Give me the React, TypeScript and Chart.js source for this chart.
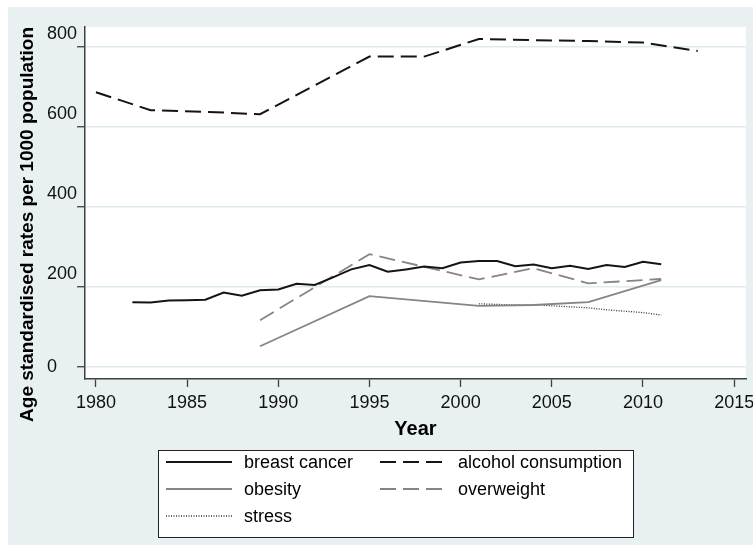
import React, { useEffect, useRef } from "react";
import { Chart, registerables } from "chart.js";

Chart.register(...registerables);

const FONT = '"Liberation Sans", Arial, Helvetica, sans-serif';

// ---- data ----
const breastYears = [1982, 1983, 1984, 1985, 1986, 1987, 1988, 1989, 1990, 1991, 1992, 1993, 1994, 1995, 1996, 1997, 1998, 1999, 2000, 2001, 2002, 2003, 2004, 2005, 2006, 2007, 2008, 2009, 2010, 2011];
const breastValues = [162, 161, 166, 167, 168, 186, 178, 192, 194, 208, 205, 224, 244, 255, 238, 244, 251, 247, 261, 265, 265, 252, 256, 247, 253, 245, 255, 250, 263, 257];

const alcoholYears = [1980, 1983, 1986, 1989, 1995, 1998, 2001, 2004, 2007, 2010, 2013];
const alcoholValues = [687, 642, 638, 632, 776, 776, 820, 817, 815, 811, 790];

const obesityYears = [1989, 1995, 2001, 2004, 2007, 2011];
const obesityValues = [52, 177, 153, 155, 162, 217];

const overweightYears = [1989, 1995, 2001, 2004, 2007, 2011];
const overweightValues = [117, 282, 219, 247, 209, 220];

const stressYears = [2001, 2003, 2004, 2005, 2007, 2008, 2010, 2011];
const stressValues = [158, 155, 156, 153, 148, 143, 136, 130];

const seriesLabels = ["breast cancer", "alcohol consumption", "obesity", "overweight", "stress"];

const xTickValues = [1980, 1985, 1990, 1995, 2000, 2005, 2010, 2015];
const yTickValues = [0, 200, 400, 600, 800];

const xTitle = "Year";
const yTitle = "Age standardised rates per 1000 population";

const pts = (xs: number[], ys: number[]) => xs.map((x, i) => ({ x, y: ys[i] }));

const bgPlugin = {
  id: "stataBg",
  beforeDraw(chart: any) {
    const { ctx, chartArea: a, width, height } = chart;
    ctx.save();
    ctx.fillStyle = "#e9f0f2";
    ctx.fillRect(0, 0, width, height);
    ctx.fillStyle = "#ffffff";
    ctx.fillRect(a.left, a.top, a.right - a.left, a.bottom - a.top);
    ctx.restore();
  },
};

const legendPlugin = {
  id: "stataLegend",
  afterDraw(chart: any) {
    const { ctx, chartArea: a } = chart;
    const ds = chart.data.datasets;
    const boxL = a.left + 73;
    const boxT = a.bottom + 71;
    const boxW = 475;
    const boxH = 87;
    ctx.save();
    ctx.fillStyle = "#ffffff";
    ctx.fillRect(boxL, boxT, boxW, boxH);
    ctx.strokeStyle = "#222222";
    ctx.lineWidth = 1;
    ctx.setLineDash([]);
    ctx.strokeRect(boxL + 0.5, boxT + 0.5, boxW, boxH);
    ctx.font = `18px ${FONT}`;
    ctx.textBaseline = "middle";
    ctx.textAlign = "left";
    ds.forEach((d: any, i: number) => {
      const col = i % 2;
      const row = Math.floor(i / 2);
      const y = boxT + 12 + row * 27;
      const lx = boxL + 8 + col * 214;
      ctx.save();
      ctx.strokeStyle = d.borderColor;
      ctx.lineWidth = d.borderWidth;
      ctx.setLineDash(d.borderDash || []);
      ctx.beginPath();
      ctx.moveTo(lx, y);
      ctx.lineTo(lx + 66, y);
      ctx.stroke();
      ctx.restore();
      ctx.fillStyle = "#000000";
      ctx.fillText(d.label, lx + 78, y + 1);
    });
    ctx.restore();
  },
};

export default function App() {
  const ref = useRef<HTMLCanvasElement | null>(null);

  useEffect(() => {
    if (!ref.current) return;
    const chart = new Chart(ref.current, {
      type: "line",
      data: {
        datasets: [
          {
            label: seriesLabels[0],
            data: pts(breastYears, breastValues),
            borderColor: "#141414",
            borderWidth: 2,
            borderDash: [],
          },
          {
            label: seriesLabels[1],
            data: pts(alcoholYears, alcoholValues),
            borderColor: "#141414",
            borderWidth: 2,
            borderDash: [16, 7],
          },
          {
            label: seriesLabels[2],
            data: pts(obesityYears, obesityValues),
            borderColor: "#858585",
            borderWidth: 1.8,
            borderDash: [],
          },
          {
            label: seriesLabels[3],
            data: pts(overweightYears, overweightValues),
            borderColor: "#858585",
            borderWidth: 1.8,
            borderDash: [16, 7],
          },
          {
            label: seriesLabels[4],
            data: pts(stressYears, stressValues),
            borderColor: "#333333",
            borderWidth: 1.3,
            borderDash: [1, 1.5],
          },
        ] as any,
      },
      options: {
        responsive: false,
        animation: false,
        layout: { padding: { top: 20, right: 7, bottom: 104, left: 39 } },
        plugins: { legend: { display: false }, tooltip: { enabled: false } },
        elements: { point: { radius: 0, hoverRadius: 0 }, line: { tension: 0, fill: false } },
        scales: {
          x: {
            type: "linear",
            min: 1979.4,
            max: 2015.65,
            afterBuildTicks: (s: any) => {
              s.ticks = xTickValues.map((v) => ({ value: v }));
            },
            afterFit: (s: any) => {
              s.height = 62;
              s.paddingLeft = 0;
              s.paddingRight = 0;
            },
            grid: {
              drawOnChartArea: false,
              drawTicks: true,
              tickLength: 8,
              tickColor: "#404040",
              tickWidth: 1.3,
            },
            border: { display: true, color: "#404040", width: 1.5 },
            ticks: {
              color: "#111111",
              font: { family: FONT, size: 18 },
              padding: 5,
              maxRotation: 0,
              autoSkip: false,
              callback: (v: any) => String(v),
            },
            title: {
              display: true,
              text: xTitle,
              color: "#000000",
              font: { family: FONT, size: 20, weight: "bold" },
              padding: { top: 0, bottom: 0 },
            },
          },
          y: {
            type: "linear",
            min: -30,
            max: 850,
            afterBuildTicks: (s: any) => {
              s.ticks = yTickValues.map((v) => ({ value: v }));
            },
            afterFit: (s: any) => {
              s.width = 38;
              s.paddingTop = 0;
              s.paddingBottom = 0;
            },
            grid: {
              color: "#e0eaee",
              lineWidth: 1.5,
              drawTicks: true,
              tickLength: 8,
              tickColor: "#404040",
              tickWidth: 1.3,
            },
            border: { display: true, color: "#404040", width: 1.5 },
            ticks: {
              color: "#111111",
              font: { family: FONT, size: 18, lineHeight: 1.45 },
              crossAlign: "far",
              padding: 0,
              callback: (v: any) => (v === 0 ? String(v) : [String(v), ""]),
            },
            title: {
              display: true,
              text: yTitle,
              align: "end",
              color: "#000000",
              font: { family: FONT, size: 19, weight: "bold" },
              padding: { top: -30.4, bottom: 0 },
            },
          },
        },
      } as any,
      plugins: [bgPlugin, legendPlugin],
    });
    return () => chart.destroy();
  }, []);

  return (
    <div style={{ position: "fixed", left: 8, top: 7, width: 745, height: 538 }}>
      <canvas ref={ref} width={745} height={538} style={{ display: "block", width: 745, height: 538 }} />
    </div>
  );
}
